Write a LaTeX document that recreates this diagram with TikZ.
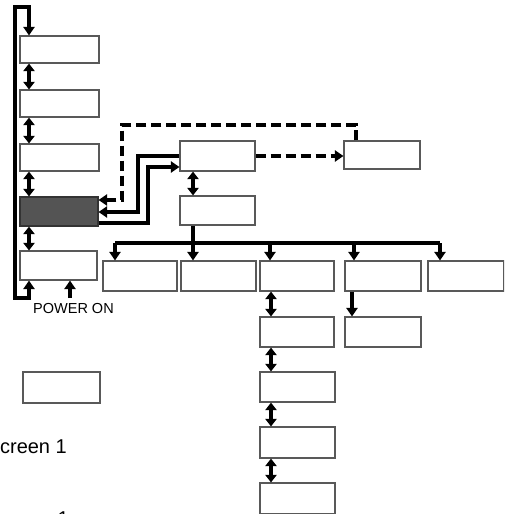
\documentclass[tikz,border=0pt]{standalone}
\usepackage{fontspec}
\setmainfont{Liberation Sans}
\usetikzlibrary{arrows.meta,calc}
\begin{document}
\begin{tikzpicture}[x=1pt,y=-1pt,
  box/.style={draw=black!65,line width=1.1pt,fill=white,minimum width=76pt,minimum height=29pt,inner sep=0pt},
  darkbox/.style={box,fill=black!67,draw=black!80},
  thk/.style={line width=3.6pt,line join=miter},
  dsh/.style={thk,dash pattern=on 10pt off 5pt},
  tip/.style={-{Triangle[width=11pt,length=8.5pt]}},
  dtip/.style={{Triangle[width=11pt,length=7.5pt]}-{Triangle[width=11pt,length=7.5pt]}},
  sdbl/.style={line width=3.4pt,dtip},
  lbl/.style={inner sep=0pt,font=\fontsize{14.5}{17}\selectfont},
  big/.style={inner sep=0pt,font=\fontsize{20}{24}\selectfont}
]
\useasboundingbox (0,0) rectangle (504,514);
\clip (0,0) rectangle (504,514);
\fill[white] (0,0) rectangle (504,514);

% left column
\node[box,minimum width=79pt,minimum height=27pt] (A) at (59.5,49.5) {};
\node[box,minimum width=79pt,minimum height=27pt] (B) at (59.5,103.5) {};
\node[box,minimum width=79pt,minimum height=27pt] (C) at (59.5,157.5) {};
\node[darkbox,minimum width=78pt,minimum height=29pt] (D) at (59,211.5) {};
\node[box,minimum width=77pt,minimum height=29pt] (E) at (58.5,265.5) {};
\node[box,minimum width=77pt,minimum height=31pt] (I) at (61.5,387.5) {};

% middle
\node[box,minimum width=75pt,minimum height=30pt] (F) at (217.5,156) {};
\node[box,minimum width=75pt,minimum height=29pt] (G) at (217.5,210.5) {};
\node[box,minimum width=76pt,minimum height=28pt] (H) at (382,155) {};

% row
\node[box,minimum width=74pt,minimum height=30pt] (R1) at (140,276) {};
\node[box,minimum width=75pt,minimum height=30pt] (R2) at (218.5,276) {};
\node[box,minimum width=74pt,minimum height=30pt] (R3) at (297,276) {};
\node[box,minimum width=76pt,minimum height=30pt] (R4) at (383,276) {};
\node[box,minimum width=76pt,minimum height=30pt] (R5) at (466,276) {};
\node[box,minimum width=76pt,minimum height=30pt] (R4b) at (383,332) {};
\node[box,minimum width=74pt,minimum height=30pt] (S1) at (297,332) {};
\node[box,minimum width=75pt,minimum height=30pt] (S2) at (297.5,387) {};
\node[box,minimum width=75pt,minimum height=31pt] (S3) at (297.5,442.5) {};
\node[box,minimum width=75pt,minimum height=31pt] (S4) at (297.5,498.5) {};

% texts
\node[lbl,anchor=base west] (pw) at (33,313) {POWER ON};
\node[big,anchor=base east] (scr) at (67,453) {Screen 1};
\node[big,anchor=base east] (one) at (69,525) {1};

% coordinates
\coordinate (ax) at (29,0);
\coordinate (lt) at (15,7);
\coordinate (lb) at (15,298);
\coordinate (pwt) at (70,298);
\coordinate (hx) at (356,125);
\coordinate (dx) at (122,125);
\coordinate (dy) at (122,200);
\coordinate (s1) at (138,156);
\coordinate (s2) at (138,212);
\coordinate (t1) at (148,223);
\coordinate (t2) at (148,167);
\coordinate (gx) at (193,243);
\coordinate (b1) at (115,243);
\coordinate (b2) at (193,243);
\coordinate (b3) at (270,243);
\coordinate (b4) at (354,243);
\coordinate (b5) at (440,243);
\coordinate (cx) at (271,0);
\coordinate (rx) at (352,0);

% left loop
\draw[thk,{Triangle[width=11pt,length=8.5pt]}-{Triangle[width=11pt,length=8.5pt]}]
  (A.north -| ax) -- (ax |- lt) -- (lt) -- (lb) -- (ax |- lb) -- (E.south -| ax);
\draw[sdbl] (A.south -| ax) -- (B.north -| ax);
\draw[sdbl] (B.south -| ax) -- (C.north -| ax);
\draw[sdbl] (C.south -| ax) -- (D.north -| ax);
\draw[sdbl] (D.south -| ax) -- (E.north -| ax);
\draw[thk,tip] (pwt) -- (E.south -| pwt);

% dashed
\draw[dsh,tip] (F.east) -- (F.east -| H.west);
\draw[dsh,tip] (H.north -| hx) -- (hx) -- (dx) -- (dy) -- (D.east |- dy);

% solid F <-> D
\draw[thk,tip] (F.west |- s1) -- (s1) -- (s2) -- (D.east |- s2);
\draw[thk,tip] (D.east |- t1) -- (t1) -- (t2) -- (F.west |- t2);

% F-G
\draw[sdbl] (F.south -| gx) -- (G.north -| gx);
\draw[thk] (G.south -| gx) -- (gx);
\draw[thk] (b1) -- (b5);
\draw[thk,tip] (b1) -- (R1.north -| b1);
\draw[thk,tip] (b2) -- (R2.north -| b2);
\draw[thk,tip] (b3) -- (R3.north -| b3);
\draw[thk,tip] (b4) -- (R4.north -| b4);
\draw[thk,tip] (b5) -- (R5.north -| b5);

\draw[thk,tip] (R4.south -| rx) -- (R4b.north -| rx);
\draw[sdbl] (R3.south -| cx) -- (S1.north -| cx);
\draw[sdbl] (S1.south -| cx) -- (S2.north -| cx);
\draw[sdbl] (S2.south -| cx) -- (S3.north -| cx);
\draw[sdbl] (S3.south -| cx) -- (S4.north -| cx);
\end{tikzpicture}
\end{document}
